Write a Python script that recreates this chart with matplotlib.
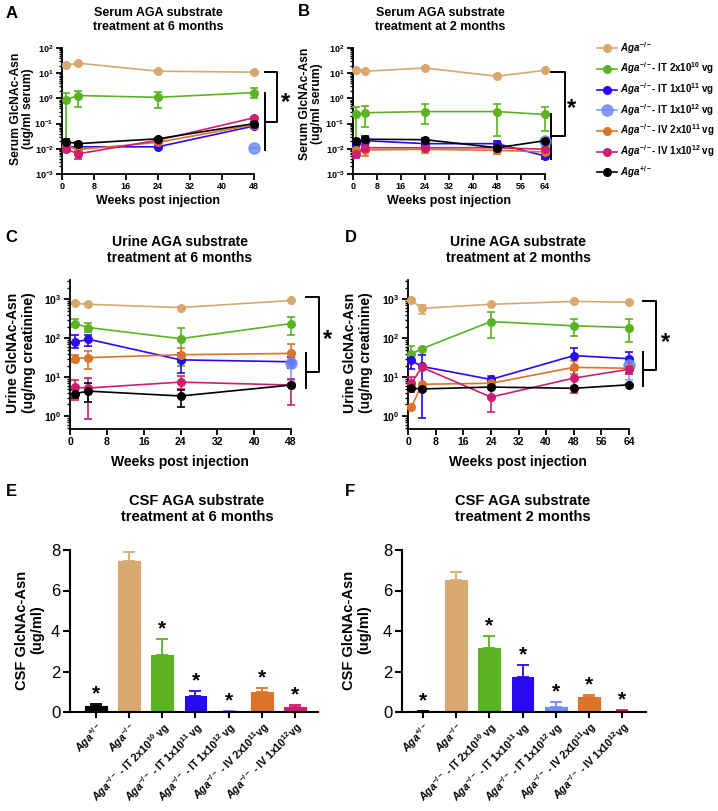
import numpy as np
import matplotlib
matplotlib.use('Agg')
import matplotlib.pyplot as plt
from matplotlib.ticker import LogLocator, NullFormatter, FixedLocator

plt.rcParams.update({
    'font.family': ['Liberation Sans', 'DejaVu Sans'],
    'font.weight': 'bold',
    'axes.labelweight': 'bold',
    'mathtext.fontset': 'custom',
    'mathtext.rm': 'Liberation Sans:bold',
    'mathtext.it': 'Liberation Sans:italic:bold',
    'mathtext.bf': 'Liberation Sans:bold',
    'mathtext.default': 'regular',
})

# ---------------- data ----------------
GROUPS = ['ko', 'it2e10', 'it1e11', 'it1e12', 'iv2e11', 'iv1e12', 'het']
LEGEND_LABELS = [r'$\mathit{Aga}^{-/-}$',
                 r'$\mathit{Aga}^{-/-}$- IT 2x10$^{10}$ vg',
                 r'$\mathit{Aga}^{-/-}$- IT 1x10$^{11}$ vg',
                 r'$\mathit{Aga}^{-/-}$- IT 1x10$^{12}$ vg',
                 r'$\mathit{Aga}^{-/-}$- IV 2x10$^{11}$ vg',
                 r'$\mathit{Aga}^{-/-}$- IV 1x10$^{12}$ vg',
                 r'$\mathit{Aga}^{+/-}$']
COLORS = {'ko': '#D8A96E', 'it2e10': '#5BB323', 'it1e11': '#2A08F0',
          'it1e12': '#6F8DF3', 'iv2e11': '#DB7428', 'iv1e12': '#CD1F72',
          'het': '#000000'}

# Panel A: serum, treatment at 6 months
weeks_a = [1, 4, 24, 48]
weeks_a_it1e12 = [48]
A_VAL = {'ko': [21, 25, 12, 11], 'it2e10': [0.9, 1.3, 1.1, 1.7],
         'it1e11': [0.012, 0.012, 0.012, 0.08], 'it1e12': [0.011],
         'iv2e11': [0.013, 0.0093, 0.018, 0.09], 'iv1e12': [0.0098, 0.0063, 0.022, 0.17],
         'het': [0.019, 0.016, 0.025, 0.1]}
A_LO = {'ko': [19, 21, 10, 10], 'it2e10': [0.017, 0.45, 0.4, 1.0],
        'it1e11': [0.011, 0.011, 0.011, 0.065], 'it1e12': [0.011],
        'iv2e11': [0.011, 0.008, 0.016, 0.08], 'iv1e12': [0.0075, 0.004, 0.02, 0.15],
        'het': [0.015, 0.013, 0.023, 0.09]}
A_HI = {'ko': [23, 29, 14, 12], 'it2e10': [1.7, 2.0, 1.8, 2.7],
        'it1e11': [0.014, 0.013, 0.013, 0.1], 'it1e12': [0.011],
        'iv2e11': [0.016, 0.011, 0.02, 0.1], 'iv1e12': [0.012, 0.009, 0.025, 0.19],
        'het': [0.024, 0.019, 0.028, 0.115]}

# Panel B: serum, treatment at 2 months
weeks_b = [1, 4, 24, 48, 64]
weeks_b_it1e12 = [64]
B_VAL = {'ko': [13, 12, 16, 7.6, 13], 'it2e10': [0.23, 0.27, 0.3, 0.3, 0.23],
         'it1e11': [0.017, 0.021, 0.016, 0.016, 0.0052], 'it1e12': [0.02],
         'iv2e11': [0.009, 0.009, 0.0095, 0.0087, 0.0075],
         'iv1e12': [0.006, 0.011, 0.011, 0.011, 0.0096],
         'het': [0.02, 0.024, 0.023, 0.011, 0.021]}
B_LO = {'ko': [12, 11, 15, 7, 12], 'it2e10': [0.008, 0.075, 0.1, 0.033, 0.05],
        'it1e11': [0.012, 0.012, 0.013, 0.012, 0.004], 'it1e12': [0.02],
        'iv2e11': [0.007, 0.005, 0.007, 0.006, 0.006],
        'iv1e12': [0.0045, 0.008, 0.009, 0.009, 0.008],
        'het': [0.016, 0.02, 0.02, 0.009, 0.018]}
B_HI = {'ko': [14, 13, 17, 8.2, 14], 'it2e10': [0.45, 0.48, 0.58, 0.58, 0.45],
        'it1e11': [0.022, 0.033, 0.02, 0.021, 0.0065], 'it1e12': [0.02],
        'iv2e11': [0.011, 0.014, 0.012, 0.011, 0.009],
        'iv1e12': [0.0075, 0.014, 0.013, 0.013, 0.011],
        'het': [0.025, 0.028, 0.026, 0.013, 0.024]}

# Panel C: urine, treatment at 6 months
weeks_c = [1, 4, 24, 48]
weeks_c_it1e12 = [48]
C_VAL = {'ko': [790, 750, 620, 940], 'it2e10': [240, 190, 98, 240],
         'it1e11': [79, 95, 28, 25], 'it1e12': [23],
         'iv2e11': [30, 32, 38, 41], 'iv1e12': [5.5, 5.3, 7.5, 6.3],
         'het': [3.8, 4.4, 3.3, 6.3]}
C_LO = {'ko': [760, 720, 590, 910], 'it2e10': [200, 145, 20, 120],
        'it1e11': [55, 63, 13, 17], 'it1e12': [8.5],
        'iv2e11': [24, 16, 25, 25], 'iv1e12': [2.6, 0.83, 5.0, 1.9],
        'het': [2.9, 2.3, 1.7, 6.0]}
C_HI = {'ko': [820, 780, 650, 970], 'it2e10': [320, 250, 180, 360],
        'it1e11': [120, 125, 43, 34], 'it1e12': [40],
        'iv2e11': [38, 46, 58, 70], 'iv1e12': [8.5, 9.5, 11, 9.0],
        'het': [4.7, 7.0, 4.7, 6.6]}

# Panel D: urine, treatment at 2 months
weeks_d = [1, 4, 24, 48, 64]
weeks_d_it1e12 = [64]
D_VAL = {'ko': [950, 590, 750, 890, 850], 'it2e10': [40, 54, 270, 210, 190],
         'it1e11': [27, 19, 8.8, 36, 30], 'it1e12': [21],
         'iv2e11': [1.7, 6.6, 7.0, 18, 17], 'iv1e12': [7.0, 18, 3.1, 9.5, 16],
         'het': [5.2, 5.0, 5.6, 5.2, 6.4]}
D_LO = {'ko': [920, 430, 720, 860, 820], 'it2e10': [24, 52, 105, 115, 80],
        'it1e11': [16, 0.9, 7.0, 15, 13], 'it1e12': [8.5],
        'iv2e11': [1.6, 6.3, 5.0, 12, 12], 'iv1e12': [4.2, 17, 1.25, 3.9, 12],
        'het': [4.8, 4.7, 5.2, 4.9, 6.1]}
D_HI = {'ko': [980, 700, 780, 920, 880], 'it2e10': [62, 56, 470, 320, 320],
        'it1e11': [38, 37, 11, 55, 44], 'it1e12': [34],
        'iv2e11': [1.8, 6.9, 11, 26, 22], 'iv1e12': [10, 19, 8.0, 15, 20],
        'het': [5.6, 5.3, 6.0, 5.5, 6.7]}

# Panels E / F: CSF bars
BAR_GROUPS = ['het', 'ko', 'it2e10', 'it1e11', 'it1e12', 'iv2e11', 'iv1e12']
BAR_LABELS = [r'$\mathit{Aga}^{+/-}$', r'$\mathit{Aga}^{-/-}$',
              r'$\mathit{Aga}^{-/-}$ - IT 2x10$^{10}$ vg',
              r'$\mathit{Aga}^{-/-}$ - IT 1x10$^{11}$ vg',
              r'$\mathit{Aga}^{-/-}$ - IT 1x10$^{12}$ vg',
              r'$\mathit{Aga}^{-/-}$ - IV 2x10$^{11}$vg',
              r'$\mathit{Aga}^{-/-}$ - IV 1x10$^{12}$vg']
e_vals = [0.28, 7.45, 2.8, 0.8, 0.05, 1.0, 0.25]
e_errs = [0.13, 0.45, 0.8, 0.25, 0.02, 0.2, 0.1]
f_vals = [0.03, 6.5, 3.15, 1.72, 0.27, 0.75, 0.06]
f_errs = [0.01, 0.4, 0.6, 0.6, 0.2, 0.1, 0.04]
sig = [True, False, True, True, True, True, True]

# ---------------- figure ----------------
W, H = 718, 811
fig = plt.figure(figsize=(W / 100, H / 100), dpi=100)


def rect(l, t, r, b):
    return [l / W, 1 - b / H, (r - l) / W, (b - t) / H]


def ftext(x, y, s, **kw):
    return fig.text(x / W, 1 - y / H, s, **kw)


def style_axes(ax, lw=1.3):
    for s in ['top', 'right']:
        ax.spines[s].set_visible(False)
    for s in ['left', 'bottom']:
        ax.spines[s].set_linewidth(lw)
    ax.tick_params(which='major', width=lw, length=4, direction='out')
    ax.tick_params(which='minor', width=1.0, length=2.5, direction='out')


def line_panel(ax, weeks, weeks_sp, VAL, LO, HI, xmax, ylim, fs_tick):
    handles = []
    for g in GROUPS:
        x = weeks_sp if g == 'it1e12' else weeks
        v = np.array(VAL[g]); lo = np.array(LO[g]); hi = np.array(HI[g])
        c = COLORS[g]
        ms = 8 if g == 'it1e12' else 5.5
        alpha = 0.85 if g == 'it1e12' else 1.0
        ax.errorbar(x, v, yerr=[v - lo, hi - v], fmt='none', ecolor=c,
                    elinewidth=1.2, capsize=3, capthick=1.2, alpha=alpha,
                    clip_on=False, zorder=3)
        h, = ax.plot(x, v, '-o', color=c, lw=1.2, ms=ms, alpha=alpha,
                     clip_on=False, zorder=4)
        handles.append(h)
    ax.set_yscale('log')
    ax.set_ylim(*ylim)
    ax.set_xlim(0, xmax)
    ax.xaxis.set_major_locator(FixedLocator(np.arange(0, xmax + 1, 8)))
    ax.yaxis.set_major_locator(LogLocator(base=10, numticks=12))
    ax.yaxis.set_minor_locator(LogLocator(base=10, subs=np.arange(2, 10), numticks=12))
    ax.yaxis.set_minor_formatter(NullFormatter())
    style_axes(ax)
    ax.tick_params(axis='both', labelsize=fs_tick, pad=2)
    for lab in ax.get_xticklabels() + ax.get_yticklabels():
        lab.set_fontweight('bold')
    return handles


def bracket(ax, xa, xb, ytop, ybot, yv1, yv2, xs, ys):
    kw = dict(transform=ax.transAxes, clip_on=False, color='k', lw=1.4)
    ax.plot([xa, xb, xb, xa], [ytop, ytop, ybot, ybot], **kw)
    ax.plot([xa, xa], [yv1, yv2], **kw)
    ax.text(xs, ys, '*', transform=ax.transAxes, fontsize=17, fontweight='bold',
            ha='center', va='center')


# Panel A
axA = fig.add_axes(rect(62, 48, 254, 174))
handles = line_panel(axA, weeks_a, weeks_a_it1e12, A_VAL, A_LO, A_HI, 48, (1e-3, 1e2), 6.5)
bracket(axA, 1.057, 1.12, 0.81, 0.41, 0.64, 0.19, 1.165, 0.57)

# Panel B
axB = fig.add_axes(rect(353, 48, 545, 174))
line_panel(axB, weeks_b, weeks_b_it1e12, B_VAL, B_LO, B_HI, 64, (1e-3, 1e2), 6.5)
bracket(axB, 1.031, 1.104, 0.81, 0.30, 0.48, 0.12, 1.14, 0.52)

# Panel C
axC = fig.add_axes(rect(70, 280, 291, 429))
line_panel(axC, weeks_c, weeks_c_it1e12, C_VAL, C_LO, C_HI, 48, (10 ** -0.33, 10 ** 3.5), 7.5)
bracket(axC, 1.068, 1.127, 0.886, 0.383, 0.51, 0.275, 1.167, 0.60)

# Panel D
axD = fig.add_axes(rect(408, 280, 629, 429))
line_panel(axD, weeks_d, weeks_d_it1e12, D_VAL, D_LO, D_HI, 64, (10 ** -0.33, 10 ** 3.5), 7.5)
bracket(axD, 1.063, 1.122, 0.859, 0.396, 0.517, 0.289, 1.167, 0.58)


def bar_panel(ax, vals, errs, xlim):
    x = np.arange(len(vals))
    for i, g in enumerate(BAR_GROUPS):
        c = COLORS[g]
        ax.bar(x[i], vals[i], width=0.66, color=c, edgecolor=c, linewidth=0.8, zorder=2)
        ax.errorbar(x[i], vals[i], yerr=[[0], [errs[i]]], fmt='none', ecolor=c,
                    elinewidth=1.3, capsize=4, capthick=1.3, zorder=2)
        if sig[i]:
            ax.text(x[i], vals[i] + errs[i] + 0.5, '*', fontsize=15, fontweight='bold',
                    ha='center', va='center')
    ax.set_xlim(*xlim)
    ax.set_ylim(0, 8)
    ax.set_yticks([0, 2, 4, 6, 8])
    ax.set_xticks(x)
    ax.set_xticklabels(BAR_LABELS, rotation=45, ha='right', rotation_mode='anchor',
                       fontsize=7.6, fontweight='bold')
    style_axes(ax, lw=1.5)
    ax.tick_params(axis='y', labelsize=12, length=5, pad=2)
    ax.tick_params(axis='x', length=4, pad=2)
    for lab in ax.get_yticklabels():
        lab.set_fontweight('normal')


axE = fig.add_axes(rect(70, 550, 318, 712))
bar_panel(axE, e_vals, e_errs, (-0.78, 6.69))
axF = fig.add_axes(rect(402, 550, 646, 712))
bar_panel(axF, f_vals, f_errs, (-0.63, 6.72))

# Legend
fig.legend(handles, LEGEND_LABELS, loc='upper left', bbox_to_anchor=(597 / W, 1 - 40 / H),
           frameon=False, fontsize=7.0, handlelength=2.1, handletextpad=0.3,
           labelspacing=0.5, borderaxespad=0, borderpad=0, numpoints=1)

# Panel letters
for s, x, y in [('A', 12, 13), ('B', 304, 12), ('C', 11, 238), ('D', 351, 238),
                ('E', 11, 492), ('F', 350, 492)]:
    ftext(x, y, s, fontsize=12, fontweight='bold', ha='center', va='center')

# Titles
tkw = dict(ha='center', va='center', fontweight='bold', linespacing=1.15)
ftext(158, 20, 'Serum AGA substrate\ntreatment at 6 months', fontsize=9, **tkw)
ftext(440, 20, 'Serum AGA substrate\ntreatment at 2 months', fontsize=9, **tkw)
ftext(180, 250, 'Urine AGA substrate\ntreatment at 6 months', fontsize=10, **tkw)
ftext(518, 250, 'Urine AGA substrate\ntreatment at 2 months', fontsize=10, **tkw)
ftext(197, 509, 'CSF AGA substrate\ntreatment at 6 months', fontsize=10.5, **tkw)
ftext(523, 509, 'CSF AGA substrate\ntreatment 2 months', fontsize=10.5, **tkw)

# Y labels
ykw = dict(ha='center', va='center', rotation=90, fontweight='bold', linespacing=1.1)
ftext(22, 109, 'Serum GlcNAc-Asn\n(ug/ml serum)', fontsize=8.7, **ykw)
ftext(311, 104, 'Serum GlcNAc-Asn\n(ug/ml serum)', fontsize=8.7, **ykw)
ftext(21, 353, 'Urine GlcNAc-Asn\n(ug/mg creatinine)', fontsize=10, **ykw)
ftext(358, 353, 'Urine GlcNAc-Asn\n(ug/mg creatinine)', fontsize=10, **ykw)
ftext(30, 630, 'CSF GlcNAc-Asn\n(ug/ml)', fontsize=10.5, **ykw)
ftext(357, 630, 'CSF GlcNAc-Asn\n(ug/ml)', fontsize=10.5, **ykw)

# X labels
xkw = dict(ha='center', va='center', fontweight='bold')
ftext(158, 201, 'Weeks post injection', fontsize=9, **xkw)
ftext(449, 201, 'Weeks post injection', fontsize=9, **xkw)
ftext(180, 462, 'Weeks post injection', fontsize=10, **xkw)
ftext(518, 462, 'Weeks post injection', fontsize=10, **xkw)

fig.savefig('out.png', dpi=100)
